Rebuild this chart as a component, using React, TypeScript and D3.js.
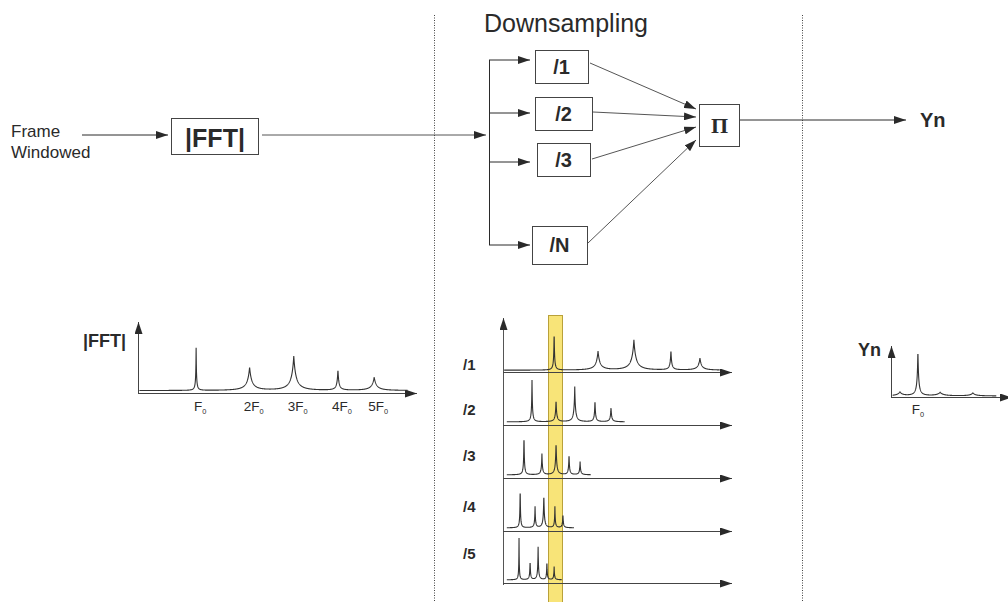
import * as d3 from "d3";

// spectrum of the windowed frame (bins, amplitude 0..1)
const fftBins = [12.5, 24, 33.5, 43, 50.8];
const fftAmps = [0.61, 0.33, 0.49, 0.3, 0.19];
const fftWidths = [0.15, 0.9, 0.9, 0.35, 0.9];
const harmonicLabels = ["", "2", "3", "4", "5"];

// downsampled spectra, one entry per row
const rowLabels = ["/1", "/2", "/3", "/4", "/5"];
const rowBins = [
  [13.4, 24.9, 34.3, 44, 51.6],
  [7.6, 13.9, 18.8, 24.1, 28.3],
  [5.5, 10.2, 13.9, 17.3, 20.2],
  [4.5, 8.4, 10.7, 13.6, 15.7],
  [4.2, 7.1, 9.2, 11.5, 13.4],
];
const rowAmps = [
  [0.89, 0.42, 0.67, 0.44, 0.27],
  [0.96, 0.49, 0.78, 0.49, 0.33],
  [0.93, 0.47, 0.73, 0.47, 0.29],
  [0.96, 0.47, 0.76, 0.47, 0.31],
  [0.93, 0.44, 0.73, 0.44, 0.29],
];
const rowEnds = [56.8, 31.9, 23, 18.6, 15.4];

// product spectrum Yn
const ynBins = [2.3, 6.9, 12.6, 21];
const ynAmps = [0.08, 0.92, 0.07, 0.06];
const ynWidths = [1.2, 0.35, 1.5, 1.2];

const branchLabels = ["/1", "/2", "/3", "/N"];

const FONT = "Liberation Sans, Arial, sans-serif";
const INK = "#2a2a2a";

function spectrum(bins: number[], amps: number[], widths: number[], start: number, end: number, floor: number) {
  const pts: [number, number][] = [];
  for (let x = start; x <= end + 1e-9; x += 0.04) {
    let y = floor;
    bins.forEach((b, i) => {
      const d = Math.abs(x - b) / widths[i];
      y += amps[i] / ((1 + d) * (1 + d));
    });
    pts.push([x, y]);
  }
  return pts;
}

function F0({ x, y, n, size }: { x: number; y: number; n: string; size: number }) {
  return (
    <text x={x} y={y} fontFamily={FONT} fontSize={size} fill={INK} textAnchor="middle">
      {n}F<tspan fontSize={size * 0.55} dy={3}>0</tspan>
    </text>
  );
}

export default function App() {
  // |FFT| panel
  const fx = d3.scaleLinear().domain([0, 60]).range([138, 417]);
  const fy = d3.scaleLinear().domain([0, 1]).range([393, 323]);
  const fftLine = d3
    .line<[number, number]>()
    .x((d) => fx(d[0]))
    .y((d) => fy(Math.min(d[1], 1)));
  const fftPts = spectrum(fftBins, fftAmps, fftWidths, 0.3, 58, 0.035);

  // downsampling panel
  const dx = d3.scaleLinear().domain([0, 60]).range([503, 732]);
  const rowAxis = [372, 425, 478, 531, 583];
  const rowWidths = [
    [0.2, 0.9, 1.0, 0.35, 0.8],
    [0.2, 0.3, 0.35, 0.25, 0.3],
    [0.18, 0.25, 0.3, 0.22, 0.25],
    [0.15, 0.2, 0.25, 0.18, 0.2],
    [0.12, 0.18, 0.2, 0.15, 0.18],
  ];

  // Yn panel
  const yx = d3.scaleLinear().domain([0, 30]).range([891, 1008]);
  const yy = d3.scaleLinear().domain([0, 1]).range([397, 347]);
  const ynPts = spectrum(ynBins, ynAmps, ynWidths, 0.4, 27, 0.02);
  const ynLine = d3
    .line<[number, number]>()
    .x((d) => yx(d[0]))
    .y((d) => yy(d[1]));

  const boxes = [
    { x: 535, y: 50, w: 53, h: 33 },
    { x: 535, y: 97, w: 57, h: 33 },
    { x: 537, y: 143, w: 53, h: 33 },
    { x: 532, y: 226, w: 55, h: 38 },
  ];
  const branchY = [60, 113, 162, 245];
  const toPi = [
    [590, 63, 696, 109],
    [593, 112, 696, 117],
    [592, 159, 696, 127],
    [588, 243, 696, 140],
  ];

  return (
    <svg width={1008} height={602} style={{ position: "absolute", left: 0, top: 0, background: "#fff" }}>
      <defs>
        <marker id="ah" viewBox="0 0 12 8" refX={12} refY={4} markerWidth={12} markerHeight={8} markerUnits="userSpaceOnUse" orient="auto">
          <path d="M0,0 L12,4 L0,8 z" fill={INK} />
        </marker>
      </defs>

      {/* dotted separators */}
      <line x1={434.5} x2={434.5} y1={15} y2={602} stroke="#444" strokeDasharray="1 1.5" />
      <line x1={802.5} x2={802.5} y1={15} y2={602} stroke="#444" strokeDasharray="1 1.5" />

      {/* top block diagram */}
      <text x={484} y={32} fontFamily={FONT} fontSize={25} fill={INK} textLength={164} lengthAdjust="spacingAndGlyphs">Downsampling</text>
      <text x={11} y={137} fontFamily={FONT} fontSize={17} fill={INK}>Frame</text>
      <text x={11} y={158} fontFamily={FONT} fontSize={17} fill={INK}>Windowed</text>
      <line x1={82} x2={168} y1={135} y2={135} stroke={INK} markerEnd="url(#ah)" />
      <rect x={171.5} y={118.5} width={87} height={36} fill="none" stroke="#444" />
      <text x={215} y={147} fontFamily={FONT} fontSize={25} fontWeight="bold" fill={INK} textAnchor="middle">|FFT|</text>
      <line x1={262} x2={486} y1={135} y2={135} stroke={INK} strokeWidth={0.8} markerEnd="url(#ah)" />
      <line x1={489.5} x2={489.5} y1={60} y2={245} stroke={INK} />
      {branchY.map((y, i) => (
        <line key={i} x1={489} x2={530} y1={y} y2={y} stroke={INK} markerEnd="url(#ah)" />
      ))}
      {boxes.map((b, i) => (
        <g key={i}>
          <rect x={b.x + 0.5} y={b.y + 0.5} width={b.w} height={b.h} fill="none" stroke="#444" />
          <text x={b.x + b.w / 2} y={b.y + b.h / 2 + 7} fontFamily={FONT} fontSize={20} fontWeight="bold" fill={INK} textAnchor="middle">
            {branchLabels[i]}
          </text>
        </g>
      ))}
      {toPi.map((l, i) => (
        <line key={i} x1={l[0]} y1={l[1]} x2={l[2]} y2={l[3]} stroke={INK} strokeWidth={0.8} markerEnd="url(#ah)" />
      ))}
      <rect x={699.5} y={104.5} width={40} height={42} fill="none" stroke="#444" />
      <text x={719.5} y={133} fontFamily="Liberation Serif, Times New Roman, serif" fontSize={22} fontWeight="bold" fill={INK} textAnchor="middle">Π</text>
      <line x1={740} x2={906} y1={120} y2={120} stroke={INK} markerEnd="url(#ah)" />
      <text x={920} y={127} fontFamily={FONT} fontSize={20} fontWeight="bold" fill={INK}>Yn</text>

      {/* |FFT| spectrum panel */}
      <text x={83} y={347} fontFamily={FONT} fontSize={18} fontWeight="bold" fill={INK}>|FFT|</text>
      <line x1={138.5} x2={138.5} y1={393} y2={322} stroke="#444" markerEnd="url(#ah)" />
      <line x1={138} x2={417} y1={393.5} y2={393.5} stroke="#444" markerEnd="url(#ah)" />
      <path d={fftLine(fftPts) || ""} fill="none" stroke="#333" strokeWidth={1.1} />
      {fftBins.map((b, i) => (
        <F0 key={i} x={fx(b) + 4} y={411} n={harmonicLabels[i]} size={13.5} />
      ))}

      {/* downsampled spectra panel */}
      <rect x={548.5} y={315.5} width={14} height={290} fill="#f8e478" stroke="#b9a13a" />
      <line x1={503.5} x2={503.5} y1={585} y2={318} stroke="#555" markerEnd="url(#ah)" />
      {rowLabels.map((lab, r) => {
        const y0 = rowAxis[r];
        const ry = d3.scaleLinear().domain([0, 1]).range([y0, y0 - 45]);
        const pts = spectrum(rowBins[r], rowAmps[r], rowWidths[r], r === 0 ? 0.3 : 1.0, rowEnds[r], r === 0 ? 0.04 : 0.07);
        const line = d3
          .line<[number, number]>()
          .x((d) => dx(d[0]))
          .y((d) => ry(Math.min(d[1], 1)));
        return (
          <g key={r}>
            <text x={463} y={[370, 415, 461, 512, 559][r]} fontFamily={FONT} fontSize={15} fontWeight="bold" fill={INK}>{lab}</text>
            <line x1={503} x2={732} y1={y0 + 0.5} y2={y0 + 0.5} stroke="#444" markerEnd="url(#ah)" />
            <path d={line(pts) || ""} fill="none" stroke="#333" strokeWidth={1.1} />
          </g>
        );
      })}

      {/* Yn panel */}
      <text x={858} y={356} fontFamily={FONT} fontSize={18} fontWeight="bold" fill={INK}>Yn</text>
      <line x1={891.5} x2={891.5} y1={397} y2={346} stroke="#444" markerEnd="url(#ah)" />
      <line x1={891} x2={1012} y1={397.5} y2={397.5} stroke="#444" markerEnd="url(#ah)" />
      <path d={ynLine(ynPts) || ""} fill="none" stroke="#333" strokeWidth={1.1} />
      <F0 x={yx(ynBins[1])} y={414} n="" size={13.5} />
    </svg>
  );
}
